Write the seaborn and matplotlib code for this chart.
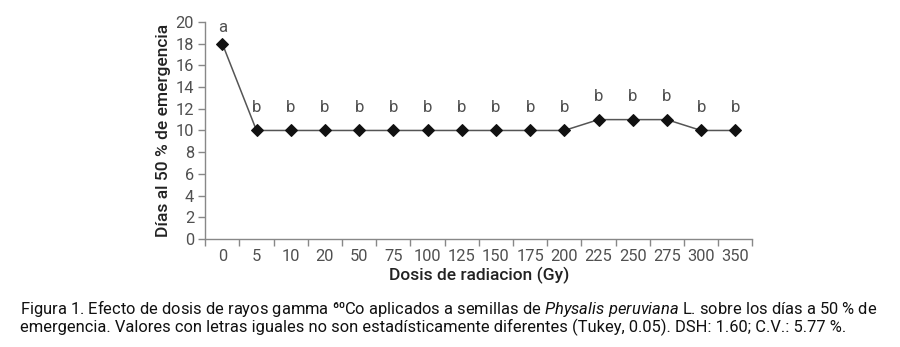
import numpy as np
import pandas as pd
import seaborn as sns
import matplotlib.pyplot as plt
from matplotlib.ticker import FixedLocator

doses = ["0", "5", "10", "20", "50", "75", "100", "125", "150", "175",
         "200", "225", "250", "275", "300", "350"]
days = [18, 10, 10, 10, 10, 10, 10, 10, 10, 10, 10, 11, 11, 11, 10, 10]
letters = ["a", "b", "b", "b", "b", "b", "b", "b", "b", "b", "b", "b", "b", "b", "b", "b"]

df = pd.DataFrame({"pos": np.arange(len(doses)), "dosis": doses, "dias": days})

sns.set_theme(style="white")
plt.rcParams["font.family"] = ["Roboto", "DejaVu Sans"]
plt.rcParams["mathtext.fontset"] = "custom"
plt.rcParams["mathtext.rm"] = "Roboto"
plt.rcParams["mathtext.it"] = "Roboto:italic"

fig = plt.figure(figsize=(9, 3.47), dpi=100)
ax = fig.add_axes([0.228, 0.311, 0.608, 0.626])

sns.lineplot(data=df, x="pos", y="dias", ax=ax, color="#555555", linewidth=1.1,
             marker="D", markersize=6.5, markerfacecolor="#111111",
             markeredgecolor="#111111")

# letter labels just above each point, kept below the top of the axis
label_y = np.minimum(df["dias"] + 2.1, 19.5)
for x, y, t in zip(df["pos"], label_y, letters):
    ax.text(x, y, t, ha="center", va="center", fontsize=12, color="#505050")

ax.set_xlim(-0.5, len(doses) - 0.5)
ax.set_ylim(0, 20)
ax.set_yticks(range(0, 21, 2))
ax.set_xticks(df["pos"])
ax.set_xticklabels(doses)
ax.xaxis.set_minor_locator(FixedLocator(np.arange(-0.5, len(doses), 1)))
ax.tick_params(axis="x", which="major", length=0, pad=7, labelsize=11.8, labelcolor="#505050")
ax.tick_params(axis="x", which="minor", length=5, width=1, color="#888888", direction="out", bottom=True)
ax.tick_params(axis="y", length=5, width=1, color="#888888", direction="out", left=True,
               labelsize=11.8, labelcolor="#505050", pad=3)

sns.despine(ax=ax)
for s in ["left", "bottom"]:
    ax.spines[s].set_color("#888888")
    ax.spines[s].set_linewidth(1)

ax.set_xlabel("Dosis de radiacion (Gy)", fontsize=12.5, fontweight="medium", color="#222222", labelpad=2)
ax.set_ylabel("Días al 50 % de emergencia", fontsize=12.5, fontweight="medium", color="#222222", labelpad=3)

fig.text(0.022, 0.112,
         r"Figura 1. Efecto de dosis de rayos gamma ⁶⁰Co aplicados a semillas de "
         r"$\mathit{Physalis\ peruviana}$ L. sobre los días a 50 % de",
         fontsize=11.9, color="#111111", va="center")
fig.text(0.022, 0.057,
         "emergencia. Valores con letras iguales no son estadísticamente diferentes "
         "(Tukey, 0.05). DSH: 1.60; C.V.: 5.77 %.",
         fontsize=11.9, color="#111111", va="center")

fig.savefig("out.png", dpi=100)
